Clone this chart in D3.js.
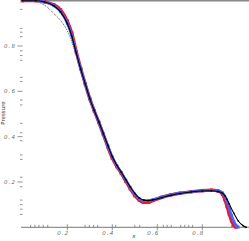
<!DOCTYPE html>
<html>
<head>
<meta charset="utf-8">
<script src="https://cdn.jsdelivr.net/npm/d3@7"></script>
<style>
  body { margin: 0; background: #fff; }
  svg { display: block; }
  .tick-label { font-family: "DejaVu Sans", sans-serif; font-size: 5.5px; font-style: italic; fill: #666; letter-spacing: 1.1px; }
</style>
</head>
<body>
<svg id="chart"></svg>
<script>
var width = 249, height = 241;

// tick values
var xMajor = [0.2, 0.4, 0.6, 0.8];
var yMajor = [0.2, 0.4, 0.6, 0.8];
var xMinor = [0.037, 0.056, 0.074, 0.093, 0.113, 0.279, 0.298, 0.317, 0.335, 0.415, 0.5, 0.522,
              0.627, 0.644, 0.662, 0.704, 0.722, 0.740, 0.757, 0.930, 0.946, 0.962];
var yMinor = [0.962, 0.878, 0.861, 0.841, 0.779, 0.758, 0.737, 0.662, 0.643, 0.562, 0.540,
              0.459, 0.417, 0.382, 0.319, 0.300, 0.221, 0.179, 0.120, 0.100, 0.080, 0.057];

// red series
var redX = [0, 0.06, 0.10, 0.14, 0.17, 0.20, 0.22, 0.24, 0.26, 0.28, 0.30, 0.32, 0.34, 0.36, 0.38,
            0.40, 0.42, 0.44, 0.46, 0.48, 0.50, 0.52, 0.54, 0.56, 0.58, 0.62, 0.66, 0.70, 0.75,
            0.80, 0.84, 0.87, 0.89, 0.90, 0.91, 0.92, 0.93, 0.94, 0.95];
var redP = [1.0, 1.0, 0.995, 0.982, 0.96, 0.91, 0.857, 0.775, 0.70, 0.632, 0.567, 0.513, 0.463, 0.41, 0.355,
            0.305, 0.268, 0.238, 0.203, 0.170, 0.140, 0.120, 0.110, 0.110, 0.118, 0.132, 0.143, 0.150, 0.157,
            0.162, 0.164, 0.160, 0.145, 0.122, 0.092, 0.058, 0.028, 0.009, 0.0];

// blue series
var blueX = [0, 0.06, 0.10, 0.14, 0.17, 0.20, 0.22, 0.24, 0.26, 0.28, 0.30, 0.32, 0.34, 0.36, 0.38,
             0.40, 0.42, 0.44, 0.46, 0.48, 0.50, 0.52, 0.54, 0.56, 0.58, 0.62, 0.66, 0.70, 0.75,
             0.80, 0.84, 0.87, 0.89, 0.90, 0.91, 0.92, 0.93, 0.94, 0.95, 0.96];
var blueP = [1.0, 1.0, 0.994, 0.978, 0.952, 0.90, 0.845, 0.77, 0.698, 0.632, 0.568, 0.515, 0.465, 0.412, 0.36,
             0.31, 0.272, 0.242, 0.208, 0.176, 0.146, 0.126, 0.117, 0.117, 0.122, 0.134, 0.144, 0.151, 0.157,
             0.161, 0.163, 0.161, 0.152, 0.136, 0.112, 0.083, 0.052, 0.026, 0.009, 0.0];

// black series
var blackX = [0, 0.06, 0.10, 0.14, 0.17, 0.20, 0.22, 0.24, 0.26, 0.28, 0.30, 0.32, 0.34, 0.36, 0.38,
              0.40, 0.42, 0.44, 0.46, 0.48, 0.50, 0.52, 0.54, 0.56, 0.58, 0.62, 0.66, 0.70, 0.75,
              0.80, 0.84, 0.87, 0.89, 0.90, 0.91, 0.92, 0.94, 0.96, 0.98, 0.995];
var blackP = [1.0, 1.0, 0.994, 0.978, 0.951, 0.899, 0.843, 0.769, 0.697, 0.632, 0.568, 0.515, 0.466, 0.414, 0.362,
              0.312, 0.274, 0.243, 0.21, 0.178, 0.150, 0.130, 0.120, 0.118, 0.121, 0.131, 0.141, 0.149, 0.156,
              0.160, 0.161, 0.158, 0.150, 0.140, 0.124, 0.103, 0.062, 0.028, 0.008, 0.0];

// dotted initial series
var dotX = [0, 0.048, 0.08, 0.108, 0.137, 0.168, 0.19, 0.212, 0.226, 0.24];
var dotP = [1.0, 1.0, 0.99, 0.974, 0.946, 0.915, 0.885, 0.841, 0.80, 0.768];

var x = d3.scaleLinear().domain([0, 1]).range([22.3, 247.3]);
var y = d3.scaleLinear().domain([0, 1]).range([227.3, 0.7]);

var svg = d3.select('#chart').attr('width', width).attr('height', height);

// frame line at top and bottom axis line
svg.append('line')
    .attr('x1', 21).attr('x2', width)
    .attr('y1', y(1)).attr('y2', y(1))
    .attr('stroke', '#888').attr('stroke-width', 1.5);

svg.append('line')
    .attr('x1', 21).attr('x2', width)
    .attr('y1', y(0)).attr('y2', y(0))
    .attr('stroke', '#777').attr('stroke-width', 1);

// x ticks
svg.selectAll('.xminor').data(xMinor).join('line')
    .attr('x1', d => x(d)).attr('x2', d => x(d))
    .attr('y1', y(0) - 2.5).attr('y2', y(0))
    .attr('stroke', '#777').attr('stroke-width', 0.8);

svg.selectAll('.xmajor').data(xMajor).join('line')
    .attr('x1', d => x(d)).attr('x2', d => x(d))
    .attr('y1', y(0) - 3).attr('y2', y(0) + 3)
    .attr('stroke', '#777').attr('stroke-width', 0.8);

svg.selectAll('.xlab').data(xMajor).join('text')
    .attr('class', 'tick-label')
    .attr('x', d => x(d) - 4)
    .attr('y', y(0) + 8)
    .attr('text-anchor', 'middle')
    .text(d => d.toFixed(1));

// y ticks
svg.selectAll('.yminor').data(yMinor).join('line')
    .attr('x1', 20).attr('x2', 22.5)
    .attr('y1', d => y(d)).attr('y2', d => y(d))
    .attr('stroke', '#777').attr('stroke-width', 0.8);

svg.selectAll('.ymajor').data(yMajor).join('line')
    .attr('x1', 17.5).attr('x2', 22.5)
    .attr('y1', d => y(d)).attr('y2', d => y(d))
    .attr('stroke', '#777').attr('stroke-width', 0.8);

svg.selectAll('.ylab').data(yMajor).join('text')
    .attr('class', 'tick-label')
    .attr('x', 16)
    .attr('y', d => y(d) + 2)
    .attr('text-anchor', 'end')
    .text(d => d.toFixed(1));

// axis titles
svg.append('text')
    .attr('transform', 'translate(5,113) rotate(-90)')
    .attr('text-anchor', 'middle')
    .attr('font-family', 'DejaVu Sans, sans-serif')
    .attr('font-size', 5.5)
    .attr('fill', '#333')
    .text('Pressure');

svg.append('text')
    .attr('x', 134).attr('y', 238)
    .attr('text-anchor', 'middle')
    .attr('font-family', 'DejaVu Sans, sans-serif')
    .attr('font-size', 5.5)
    .attr('font-style', 'italic')
    .attr('fill', '#333')
    .text('x');

function toPts(xs, ps) {
    return xs.map((v, i) => [v, ps[i]]);
}

var line = d3.line().x(d => x(d[0])).y(d => y(d[1])).curve(d3.curveMonotoneX);

// dotted series
svg.append('path')
    .datum(toPts(dotX, dotP))
    .attr('d', line)
    .attr('fill', 'none')
    .attr('stroke', '#444')
    .attr('stroke-width', 0.9)
    .attr('stroke-dasharray', '1,1');

var series = [
    { pts: toPts(redX, redP), color: '#f0142e', w: 3.2, m: 3.4 },
    { pts: toPts(blueX, blueP), color: '#4a64f0', w: 2.6, m: 2.8 },
    { pts: toPts(blackX, blackP), color: '#000', w: 1.1, m: 1.6 }
];

series.forEach(function (s) {
    svg.append('path')
        .datum(s.pts)
        .attr('d', line)
        .attr('fill', 'none')
        .attr('stroke', s.color)
        .attr('stroke-width', s.w)
        .attr('stroke-linejoin', 'round');

    svg.append('g').selectAll('rect').data(s.pts).join('rect')
        .attr('x', d => x(d[0]) - s.m / 2)
        .attr('y', d => y(d[1]) - s.m / 2)
        .attr('width', s.m).attr('height', s.m)
        .attr('fill', s.color)
        .attr('opacity', 0.8);
});
</script>
</body>
</html>
